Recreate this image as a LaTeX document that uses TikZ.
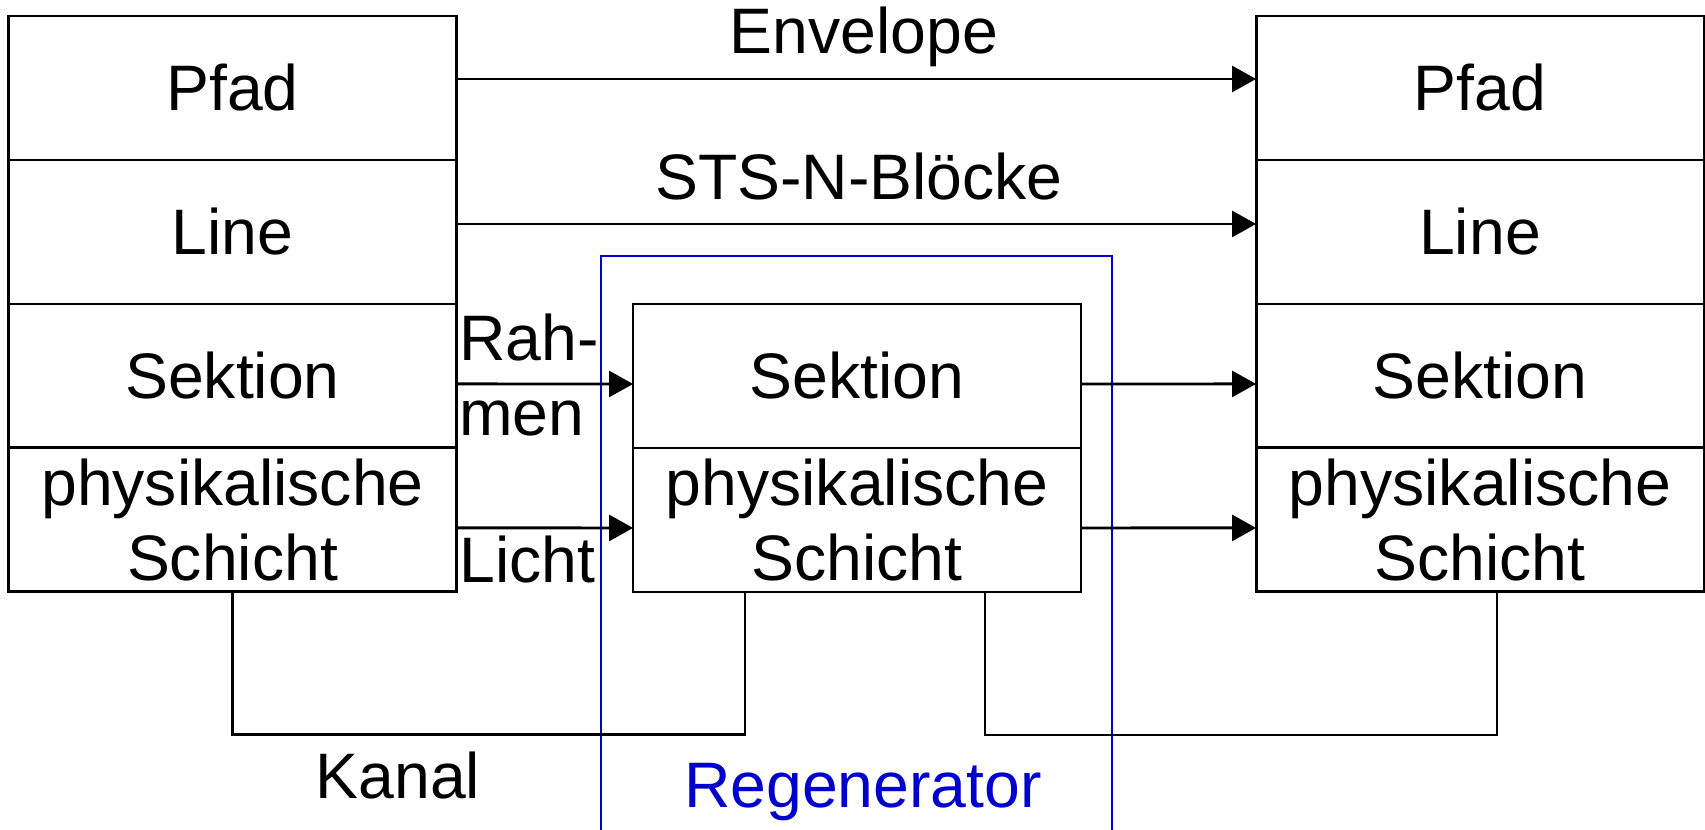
\documentclass[tikz,border=0pt]{standalone}
\usepackage{fontspec}
\setmainfont{Liberation Sans}
\usepackage{xcolor}
\usepackage{tikz}
\usetikzlibrary{arrows.meta,positioning}
\definecolor{regblue}{RGB}{0,0,204}

\begin{document}
\begin{tikzpicture}[
  x=0.02cm, y=-0.02cm,
  layer/.style={draw, rectangle, line width=0.058cm, outer sep=0pt, minimum width=8.96cm, minimum height=2.88cm, align=center, font=\fontsize{36.6}{43}\selectfont},
  lbl/.style={inner sep=0pt, font=\fontsize{36.6}{43}\selectfont},
  ptr/.style={-{Triangle[length=0.48cm, width=0.52cm]}, line width=0.058cm},
  wire/.style={line width=0.058cm},
  regen/.style={regblue, line width=0.04cm}
]
\useasboundingbox (0,0) rectangle (1705,830);
\node[layer] (lpfad) at (232.5,88) {Pfad};
\node[layer, below=0pt of lpfad] (lline) {Line};
\node[layer, below=0pt of lline] (lsekt) {Sektion};
\node[layer, below=0pt of lsekt] (lphys) {physikalische\\Schicht};
\node[layer] (msekt) at (857,376) {Sektion};
\node[layer, below=0pt of msekt] (mphys) {physikalische\\Schicht};
\node[layer] (rpfad) at (1480,88) {Pfad};
\node[layer, below=0pt of rpfad] (rline) {Line};
\node[layer, below=0pt of rline] (rsekt) {Sektion};
\node[layer, below=0pt of rsekt] (rphys) {physikalische\\Schicht};
\draw[regen] (601,840) -- (601,256) -- (1112,256) -- (1112,840);
\draw[ptr] ([yshift=0.18cm]lpfad.east) -- ([yshift=0.18cm]rpfad.west);
\draw[ptr] ([yshift=0.16cm]lline.east) -- ([yshift=0.16cm]rline.west);
\draw[ptr] ([yshift=-0.16cm]lsekt.east) -- ([yshift=-0.16cm]msekt.west);
\draw[ptr] ([yshift=-0.16cm]lphys.east) -- ([yshift=-0.16cm]mphys.west);
\draw[ptr] ([yshift=-0.16cm]msekt.east) -- ([yshift=-0.16cm]rsekt.west);
\draw[ptr] ([yshift=-0.16cm]mphys.east) -- ([yshift=-0.16cm]rphys.west);
\draw[wire] (lphys.south) -- ++(0,143) -| ([xshift=-2.24cm]mphys.south);
\draw[wire] ([xshift=2.56cm]mphys.south) -- ++(0,143) -| ([xshift=0.34cm]rphys.south);
\node[lbl, anchor=base] (envlbl) at (864,54) {Envelope};
\node[lbl, anchor=base] (stslbl) at (859,200) {STS-N-Blöcke};
\node[lbl, anchor=base west] (rahlbl) at (459,361) {Rah-};
\node[lbl, anchor=base west] (menlbl) at (459,436) {men};
\node[lbl, anchor=base west] (lichtlbl) at (459,583) {Licht};
\node[lbl, anchor=base] (kanallbl) at (398,799) {Kanal};
\node[lbl, anchor=base, text=regblue] (regenlbl) at (863,808) {Regenerator};
\end{tikzpicture}
\end{document}
